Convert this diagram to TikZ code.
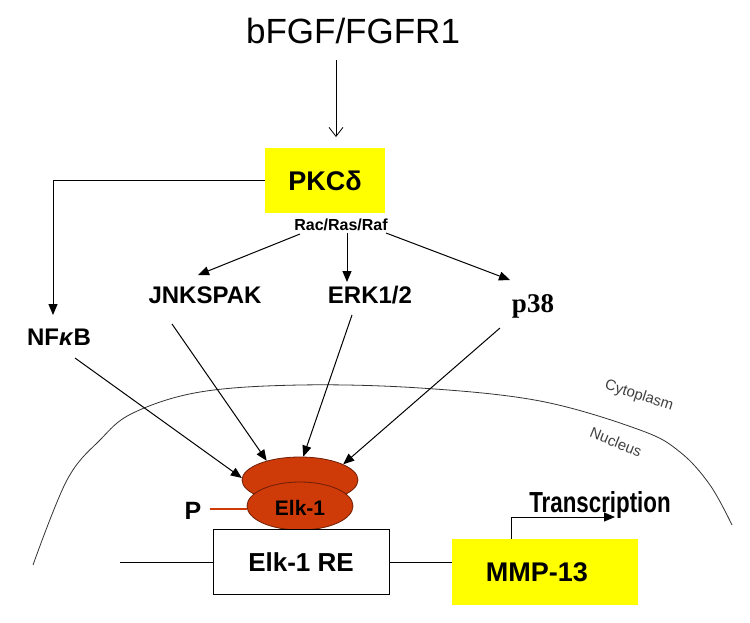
\documentclass[tikz,border=0pt]{standalone}
\usepackage{fontspec}
\setmainfont{Liberation Sans}
\newfontfamily\serifb{Liberation Serif}
\usetikzlibrary{arrows.meta,shapes.geometric}
\definecolor{elkfill}{RGB}{206,58,8}
\definecolor{elkline}{RGB}{110,30,5}
\definecolor{pyellow}{RGB}{255,255,0}
\begin{document}
\begin{tikzpicture}[x=1pt,y=-1pt,
  lbl/.style={font=\bfseries\fontsize{24}{24}\selectfont, inner sep=0pt},
  arr/.style={-{Triangle[length=11pt,width=9pt]}, line width=1pt},
  openarr/.style={-{Straight Barb[length=9pt,width=14pt]}, line width=0.8pt},
  ybox/.style={fill=pyellow, draw=none, inner sep=0pt},
  elk/.style={ellipse, fill=elkfill, draw=elkline, line width=0.8pt, inner sep=0pt}]
\useasboundingbox (0,0) rectangle (750,622);

% membrane
\draw[line width=0.8pt, black!80] plot[smooth, tension=0.6] coordinates {(33,565) (67,480) (100,440) (133,413) (200,392) (300,385) (420,388) (540,401) (640,430) (680,452) (710,485) (732,525)};
\node[font=\fontsize{15}{15}\selectfont, rotate=-18, text=black!75] (cyto) at (639,396) {Cytoplasm};
\node[font=\fontsize{15}{15}\selectfont, rotate=-22, text=black!75] (nucl) at (616,442) {Nucleus};

% top
\node[font=\fontsize{35}{35}\selectfont, inner sep=0pt, anchor=base] (top) at (353,43) {bFGF/FGFR1};
\node[ybox, minimum width=120pt, minimum height=65pt] (pkc) at (325,180.5) {};
\node[lbl, font=\bfseries\fontsize{27}{27}\selectfont] (pkct) at (325,181) {PKCδ};
\node[lbl, font=\bfseries\fontsize{16}{16}\selectfont, anchor=base] (rac) at (341,230) {Rac/Ras/Raf};

\coordinate (topout) at (336,60);
\coordinate (pkcin) at (336,137);
\draw[openarr] (topout) -- (pkcin);

% second row
\node[lbl, anchor=base] (nfkb) at (59,345) {NF\textit{κ}B};
\node[lbl, anchor=base] (jnk) at (205,303) {JNKSPAK};
\node[lbl, anchor=base] (erk) at (370,303) {ERK1/2};
\node[lbl, font=\serifb\bfseries\fontsize{27}{27}\selectfont, anchor=base] (p38) at (533,312) {p38};

\coordinate (nfkbin) at (53,315);
\draw[arr] (pkc.west) -| (nfkbin);
\coordinate (racj) at (300,234);
\coordinate (race) at (347,233);
\coordinate (racp) at (386,233);
\coordinate (jnkin) at (198,275);
\coordinate (erkin) at (347,282);
\coordinate (p38in) at (510,280);
\draw[arr] (racj) -- (jnkin);
\draw[arr] (race) -- (erkin);
\draw[arr] (racp) -- (p38in);

% Elk-1
\node[elk, minimum width=116pt, minimum height=46pt] (elktop) at (300,480) {};
\node[elk, minimum width=106pt, minimum height=48pt] (elk) at (300,506) {};
\node[lbl, font=\bfseries\fontsize{21}{21}\selectfont] (elkt) at (300,508) {Elk-1};
\node[lbl, font=\bfseries\fontsize{25}{25}\selectfont] (p) at (193,511) {P};
\draw[elkfill, line width=2pt] (p.east) ++(8,-2) coordinate (pout) -- (elk.west |- pout);

\coordinate (nfkbout) at (75,358);
\coordinate (jnkout) at (172,324);
\coordinate (erkout) at (352,315);
\coordinate (p38out) at (500,328);
\draw[arr] (nfkbout) -- (elktop.178);
\draw[arr] (jnkout) -- (elktop.150);
\draw[arr] (erkout) -- (elktop.82);
\draw[arr] (p38out) -- (elktop.20);

% DNA
\node[draw, line width=1pt, fill=white, minimum width=176pt, minimum height=65pt, inner sep=0pt] (rebox) at (301,561.5) {};
\node[lbl, font=\bfseries\fontsize{26}{26}\selectfont] (ret) at (301,562) {Elk-1 RE};
\node[ybox, minimum width=186pt, minimum height=66pt] (mmp) at (545,572) {};
\node[lbl, font=\bfseries\fontsize{27}{27}\selectfont] (mmpt) at (537,572) {MMP-13};
\coordinate (dnal) at (120,562);
\draw[line width=1pt] (dnal) -- (dnal -| rebox.west);
\draw[line width=1pt] (rebox.east |- dnal) -- (mmp.west |- dnal);

\coordinate (trs) at (511,539);
\coordinate (tre) at (615,517);
\draw[arr] (trs) |- (tre);
\node[font=\bfseries\fontsize{29}{29}\selectfont, inner sep=0pt, anchor=base, xscale=0.77] (trt) at (600,512) {Transcription};
\end{tikzpicture}
\end{document}
